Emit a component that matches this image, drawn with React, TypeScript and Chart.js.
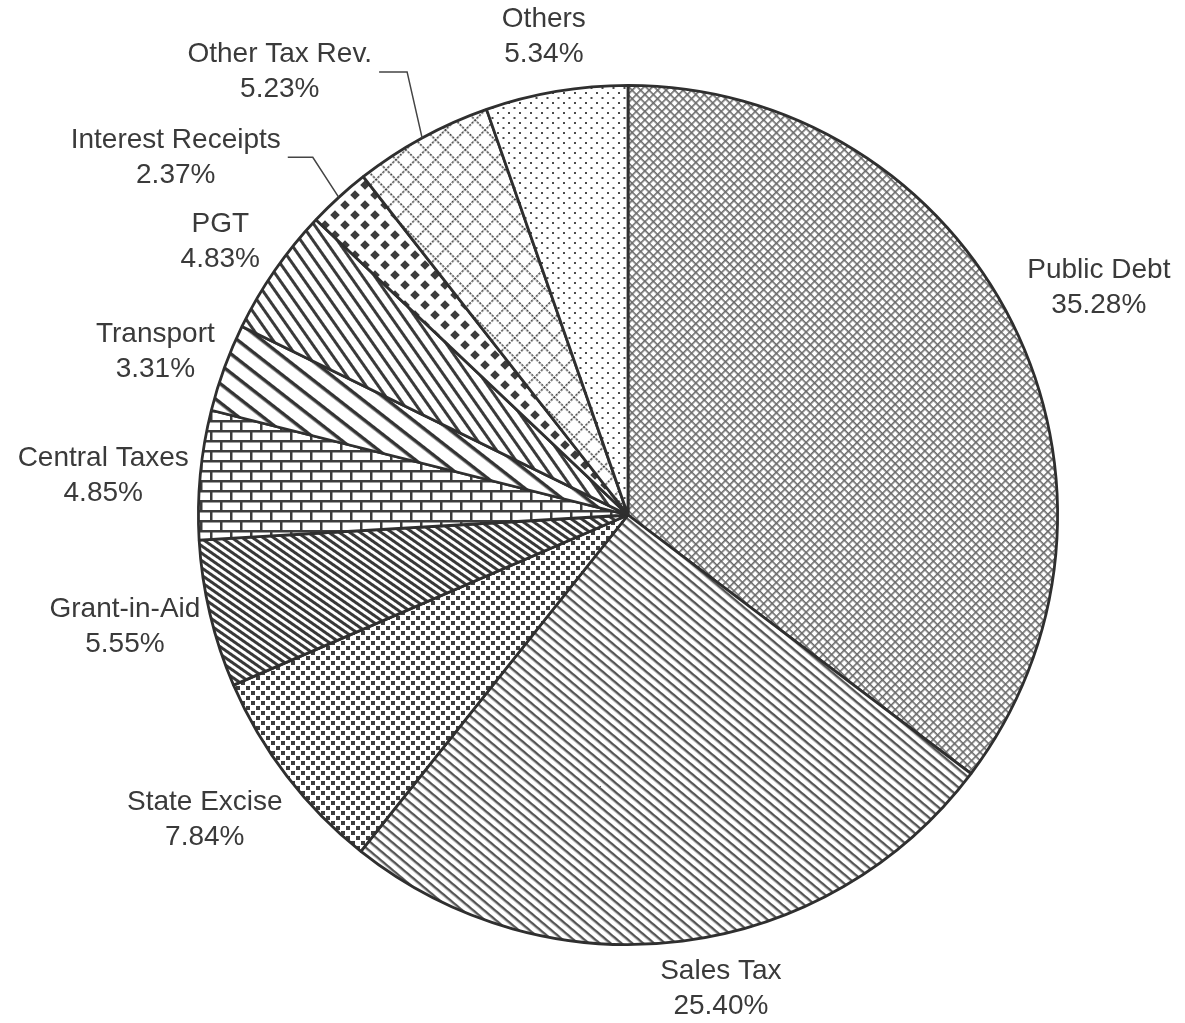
import React, { useEffect, useRef } from "react";
import { Chart, registerables } from "chart.js";

Chart.register(...registerables);

// ---- data ----
const categories = [
  "Public Debt",
  "Sales Tax",
  "State Excise",
  "Grant-in-Aid",
  "Central Taxes",
  "Transport",
  "PGT",
  "Interest Receipts",
  "Other Tax Rev.",
  "Others",
];
const shares = [35.28, 25.4, 7.84, 5.55, 4.85, 3.31, 4.83, 2.37, 5.23, 5.34];
const shareLabels = ["35.28%", "25.40%", "7.84%", "5.55%", "4.85%", "3.31%", "4.83%", "2.37%", "5.23%", "5.34%"];

// ---- label layout (separate from data) ----
const labelNudgeX = [7, 32, -9, 3, 0, 3, -4, 0, 0, -4];
const labelNudgeY = [4, -3, -12, -8, 10, 11, 7, 0, 0, -5];
// leader: [dx to elbow, dy to elbow, horizontal length] or null
const leaderLines: (number[] | null)[] = [null, null, null, null, null, null, null, [-26, -40, 25], [-15, -66, 28], null];

const INK = "#3c3c3c";
const TEXT = "#3a3a3a";
const FONT = "28px 'Liberation Sans', Arial, Helvetica, sans-serif";
const LINE_H = 35;
const GAP = 9;

function tile(w: number, h: number, draw: (g: CanvasRenderingContext2D) => void) {
  const c = document.createElement("canvas");
  c.width = w;
  c.height = h;
  const g = c.getContext("2d")!;
  g.fillStyle = "#ffffff";
  g.fillRect(0, 0, w, h);
  g.fillStyle = INK;
  g.strokeStyle = INK;
  draw(g);
  return c;
}

function pat(ctx: CanvasRenderingContext2D, c: HTMLCanvasElement, angle = 0) {
  const p = ctx.createPattern(c, "repeat")!;
  if (angle) p.setTransform(new DOMMatrix().rotateSelf(angle));
  return p;
}

function stripes(ctx: CanvasRenderingContext2D, period: number, lw: number, angle: number, color = INK) {
  return pat(
    ctx,
    tile(4, period, (g) => {
      g.fillStyle = color;
      g.fillRect(0, 0, 4, lw);
    }),
    angle
  );
}

function buildPatterns(ctx: CanvasRenderingContext2D) {
  // Public Debt: fine crosshatch
  const pd = pat(
    ctx,
    tile(6, 6, (g) => {
      g.fillStyle = "#6a6a6a";
      g.fillRect(0, 0, 6, 1.6);
      g.fillRect(0, 0, 1.6, 6);
    }),
    45
  );
  // Sales Tax: diagonal lines
  const st = stripes(ctx, 7, 2.4, 40, "#555");
  // State Excise: staggered squares
  const se = pat(
    ctx,
    tile(10, 10, (g) => {
      g.fillRect(1, 1, 4, 4);
      g.fillRect(6, 6, 4, 4);
    })
  );
  // Grant-in-Aid: dense dark diagonal lines
  const ga = stripes(ctx, 6, 3, 35, "#383838");
  // Central Taxes: bricks
  const ct = pat(
    ctx,
    tile(20, 20, (g) => {
      g.fillRect(0, 0, 20, 2.5);
      g.fillRect(0, 10, 20, 2.5);
      g.fillRect(0, 0, 2.5, 10);
      g.fillRect(10, 10, 2.5, 10);
    })
  );
  // Transport: wide diagonal lines
  const tr = stripes(ctx, 15, 3.5, 38, "#333");
  // PGT: steeper diagonal lines
  const pg = stripes(ctx, 10.5, 3, 55, "#3a3a3a");
  // Interest Receipts: diamonds
  const ir = pat(
    ctx,
    tile(20, 20, (g) => {
      const d = (cx: number, cy: number, s: number) => {
        g.beginPath();
        g.moveTo(cx, cy - s);
        g.lineTo(cx + s, cy);
        g.lineTo(cx, cy + s);
        g.lineTo(cx - s, cy);
        g.closePath();
        g.fill();
      };
      d(5, 5, 4.8);
      d(15, 15, 4.8);
    })
  );
  // Other Tax Rev.: dotted crosshatch
  const ot = pat(
    ctx,
    tile(14, 14, (g) => {
      for (let i = 0; i < 14; i += 3.5) {
        g.fillRect(i, 0, 2.2, 1.6);
        g.fillRect(0, i, 1.6, 2.2);
      }
    }),
    45
  );
  // Others: sparse dots
  const os = pat(
    ctx,
    tile(11, 10, (g) => {
      g.fillStyle = "#4a4a4a";
      g.fillRect(2, 2, 2, 2);
      g.fillRect(7.5, 7, 2, 2);
    })
  );
  return [pd, st, se, ga, ct, tr, pg, ir, ot, os];
}

const labelPlugin = {
  id: "sliceLabels",
  afterDatasetsDraw(chart: any) {
    const ctx: CanvasRenderingContext2D = chart.ctx;
    const meta = chart.getDatasetMeta(0);
    ctx.save();
    ctx.font = FONT;
    ctx.fillStyle = TEXT;
    ctx.strokeStyle = "#444";
    ctx.lineWidth = 1.5;
    ctx.textAlign = "center";
    ctx.textBaseline = "middle";
    meta.data.forEach((arc: any, i: number) => {
      const { x, y, startAngle, endAngle, outerRadius } = arc.getProps(
        ["x", "y", "startAngle", "endAngle", "outerRadius"],
        true
      );
      const mid = (startAngle + endAngle) / 2;
      const ux = Math.cos(mid);
      const uy = Math.sin(mid);
      const lines = [categories[i], shareLabels[i]];
      const w = Math.max(...lines.map((l) => ctx.measureText(l).width));
      const h = LINE_H * 2;
      let cx: number;
      let cy: number;
      const leader = leaderLines[i];
      if (leader) {
        const p0x = x + outerRadius * ux;
        const p0y = y + outerRadius * uy;
        const p1x = p0x + leader[0];
        const p1y = p0y + leader[1];
        const p2x = p1x - leader[2];
        ctx.beginPath();
        ctx.moveTo(p0x, p0y);
        ctx.lineTo(p1x, p1y);
        ctx.lineTo(p2x, p1y);
        ctx.stroke();
        cx = p2x - 7 - w / 2;
        cy = p1y;
      } else {
        const ext = (Math.abs(ux) * w) / 2 + (Math.abs(uy) * h) / 2;
        const d = outerRadius + GAP + ext;
        cx = x + d * ux + labelNudgeX[i];
        cy = y + d * uy + labelNudgeY[i];
      }
      ctx.fillText(lines[0], cx, cy - LINE_H / 2);
      ctx.fillText(lines[1], cx, cy + LINE_H / 2);
    });
    ctx.restore();
  },
};

export default function App() {
  const ref = useRef<HTMLCanvasElement | null>(null);
  useEffect(() => {
    const canvas = ref.current;
    if (!canvas) return;
    const ctx = canvas.getContext("2d")!;
    const fills = buildPatterns(ctx);
    const chart = new Chart(canvas, {
      type: "pie",
      data: {
        labels: categories,
        datasets: [
          {
            data: shares,
            backgroundColor: fills as any,
            borderColor: "#2f2f2f",
            borderWidth: 2.8,
          },
        ],
      },
      options: {
        animation: false,
        responsive: true,
        maintainAspectRatio: false,
        layout: { padding: { left: 197, right: 126, top: 84, bottom: 77 } },
        plugins: {
          legend: { display: false },
          tooltip: { enabled: false },
        },
      },
      plugins: [labelPlugin],
    });
    return () => chart.destroy();
  }, []);
  return (
    <div style={{ position: "fixed", left: 0, top: 0, width: 1185, height: 1023, background: "#fff" }}>
      <canvas ref={ref} />
    </div>
  );
}
